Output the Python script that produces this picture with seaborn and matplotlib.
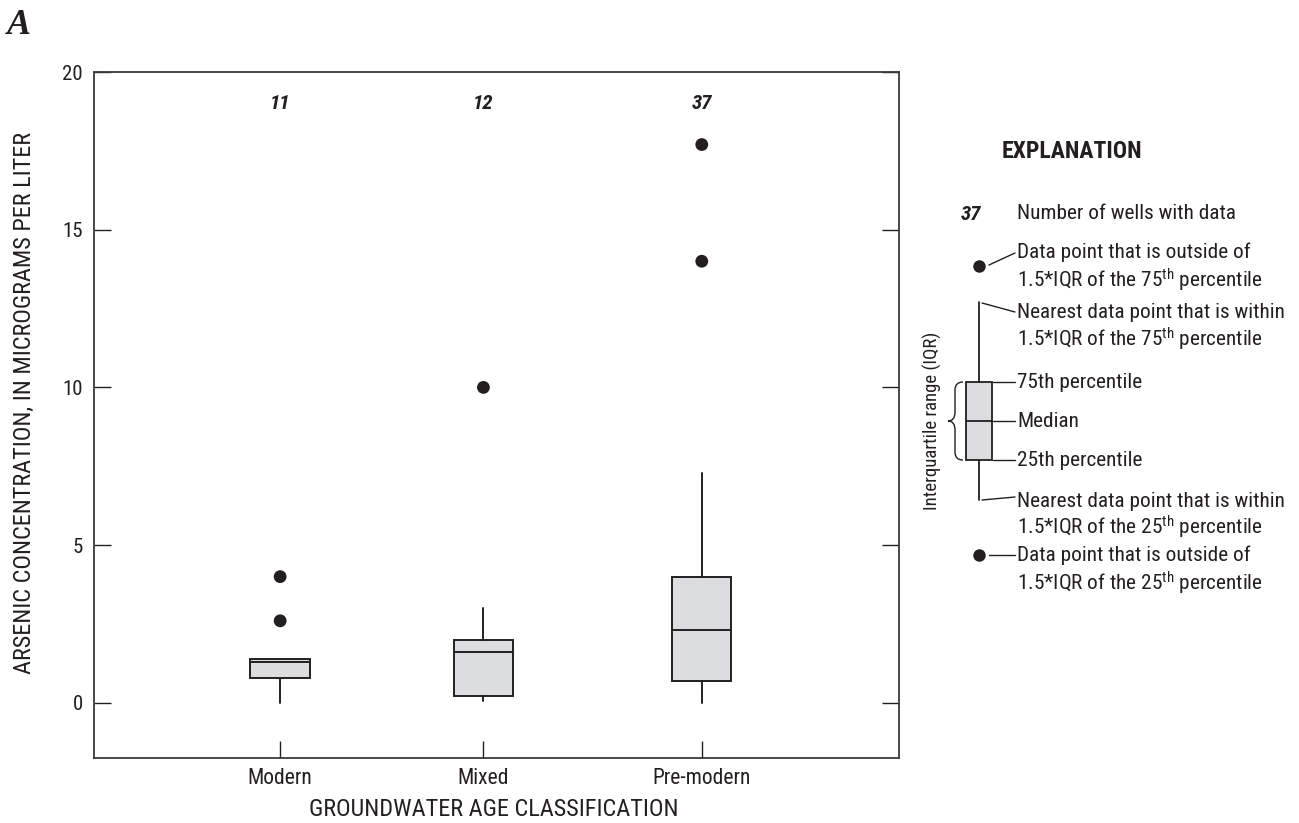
import matplotlib
matplotlib.use("Agg")
import matplotlib.pyplot as plt
from matplotlib import font_manager
from matplotlib.patches import Rectangle, PathPatch
from matplotlib.path import Path
import numpy as np
import pandas as pd
import seaborn as sns

# ---- data -------------------------------------------------------------
categories = ["Modern", "Mixed", "Pre-modern"]
well_counts = [11, 12, 37]
whisker_low = [0.0, 0.05, 0.0]
q1 = [0.8, 0.2, 0.7]
median = [1.3, 1.6, 2.3]
q3 = [1.4, 2.0, 4.0]
whisker_high = [1.4, 3.0, 7.3]
outlier_group = ["Modern", "Modern", "Mixed", "Pre-modern", "Pre-modern"]
outlier_value = [2.6, 4.0, 10.0, 14.0, 17.7]
y_ticks = [0, 5, 10, 15, 20]

# ---- style -------------------------------------------------------------
sns.set_style("ticks")
available = {f.name for f in font_manager.fontManager.ttflist}
prefs = ["Roboto Condensed", "Liberation Sans Narrow", "DejaVu Sans Condensed",
         "Liberation Sans", "DejaVu Sans"]
base_font = next(f for f in prefs if f in available)
plt.rcParams["font.family"] = [base_font, "DejaVu Sans"]
plt.rcParams["mathtext.fontset"] = "custom"
plt.rcParams["mathtext.rm"] = base_font
plt.rcParams["mathtext.it"] = base_font + ":italic"
plt.rcParams["mathtext.bf"] = base_font + ":bold"

INK = "#231f20"
FILL = "#dcdddf"
W, H = 1299, 823

fig = plt.figure(figsize=(W / 100, H / 100), dpi=100)
ax = fig.add_axes([94 / W, 65 / H, 805 / W, 686 / H])

positions = [0.925, 1.935, 3.02]
pos_of = dict(zip(categories, positions))

stats = [
    dict(label=c, whislo=lo, q1=a, med=m, q3=b, whishi=hi, fliers=[])
    for c, lo, a, m, b, hi in zip(categories, whisker_low, q1, median, q3, whisker_high)
]
ax.bxp(stats, positions=positions, widths=0.295, patch_artist=True,
       showfliers=False, showcaps=False,
       boxprops=dict(facecolor=FILL, edgecolor=INK, linewidth=1.4),
       medianprops=dict(color=INK, linewidth=1.4),
       whiskerprops=dict(color=INK, linewidth=1.4))

out_df = pd.DataFrame({"x": [pos_of[g] for g in outlier_group], "y": outlier_value})
sns.scatterplot(data=out_df, x="x", y="y", ax=ax, color=INK, s=85,
                edgecolor="none", legend=False, zorder=5)

for c, n in zip(categories, well_counts):
    ax.text(pos_of[c], 19.0, str(n), ha="center", va="center",
            fontsize=15, fontweight="bold", fontstyle="italic", color=INK)

ax.set_xlim(0, 4)
ax.set_ylim(-1.75, 20)
ax.set_yticks(y_ticks)
ax.set_yticklabels([str(t) for t in y_ticks])
ax.set_xticks(positions)
ax.set_xticklabels(categories)
ax.set_xlabel("")
ax.set_ylabel("")
ax.tick_params(axis="y", direction="in", length=12.5, width=1.0, left=True,
               right=True, pad=8, labelsize=15, colors=INK)
ax.tick_params(axis="x", direction="in", length=12.5, width=1.0, top=False,
               pad=7, labelsize=15.5, colors=INK)
for s in ax.spines.values():
    s.set_visible(True)
    s.set_color("#3a3a3a")
    s.set_linewidth(1.3)

fig.text(24 / W, 1 - 403 / H, "ARSENIC CONCENTRATION, IN MICROGRAMS PER LITER",
         rotation=90, ha="center", va="center", fontsize=17.5, color=INK)
fig.text(494 / W, 1 - 809 / H, "GROUNDWATER AGE CLASSIFICATION",
         ha="center", va="center", fontsize=17.5, color=INK)
fig.text(7 / W, 1 - 9 / H, "A", ha="left", va="top", fontsize=26,
         family="Liberation Serif", fontweight="bold", fontstyle="italic", color=INK)

# ---- explanation panel (figure pixel coordinates) ---------------------
lg = fig.add_axes([0, 0, 1, 1], facecolor="none")
lg.set_xlim(0, W)
lg.set_ylim(H, 0)
lg.axis("off")

fs = 15.3
tx = 1017
def txt(y, s, **kw):
    lg.text(tx, y, s, ha="left", va="center", fontsize=fs, color=INK, **kw)

lg.text(1002, 151, "EXPLANATION", ha="left", va="center", fontsize=17,
        fontweight="bold", color=INK)
lg.text(981, 214, "37", ha="right", va="center", fontsize=15,
        fontweight="bold", fontstyle="italic", color=INK)
txt(213, "Number of wells with data")

th = r"$^{\mathrm{th}}$"
cx = 979
lw = 1.0
# upper outlier
lg.plot([cx], [266], "o", color=INK, ms=9, mec="none")
lg.plot([989, 1015], [265, 253], color=INK, lw=lw)
txt(252, "Data point that is outside of")
txt(280, "1.5*IQR of the 75" + th + " percentile")
# upper whisker
lg.plot([cx, cx], [302, 382], color=INK, lw=1.3)
lg.plot([982, 1015], [303, 312], color=INK, lw=lw)
txt(312, "Nearest data point that is within")
txt(339, "1.5*IQR of the 75" + th + " percentile")
# box
lg.add_patch(Rectangle((966, 382), 26, 78, facecolor=FILL, edgecolor=INK, lw=1.3))
lg.plot([966, 992], [421, 421], color=INK, lw=1.3)
for yy, s in [(382, "75th percentile"), (421, "Median"), (460, "25th percentile")]:
    lg.plot([993, 1015], [yy, yy], color=INK, lw=lw)
    txt(yy, s)
# lower whisker
lg.plot([cx, cx], [460, 500], color=INK, lw=1.3)
lg.plot([982, 1015], [500, 497], color=INK, lw=lw)
txt(501, "Nearest data point that is within")
txt(527, "1.5*IQR of the 25" + th + " percentile")
# lower outlier
lg.plot([cx], [555], "o", color=INK, ms=9, mec="none")
lg.plot([989, 1015], [555, 555], color=INK, lw=lw)
txt(555, "Data point that is outside of")
txt(583, "1.5*IQR of the 25" + th + " percentile")
# brace around the box
verts = [(963, 382), (955, 382), (955, 390), (955, 412), (955, 421), (948, 421),
         (955, 421), (955, 430), (955, 452), (955, 460), (963, 460)]
codes = [Path.MOVETO, Path.CURVE3, Path.CURVE3, Path.LINETO, Path.CURVE3, Path.CURVE3,
         Path.CURVE3, Path.CURVE3, Path.LINETO, Path.CURVE3, Path.CURVE3]
lg.add_patch(PathPatch(Path(verts, codes), facecolor="none", edgecolor=INK, lw=1.0))
lg.text(932, 421, "Interquartile range (IQR)", rotation=90, ha="center",
        va="center", fontsize=13.5, color=INK)

fig.savefig("out.png", dpi=100)
